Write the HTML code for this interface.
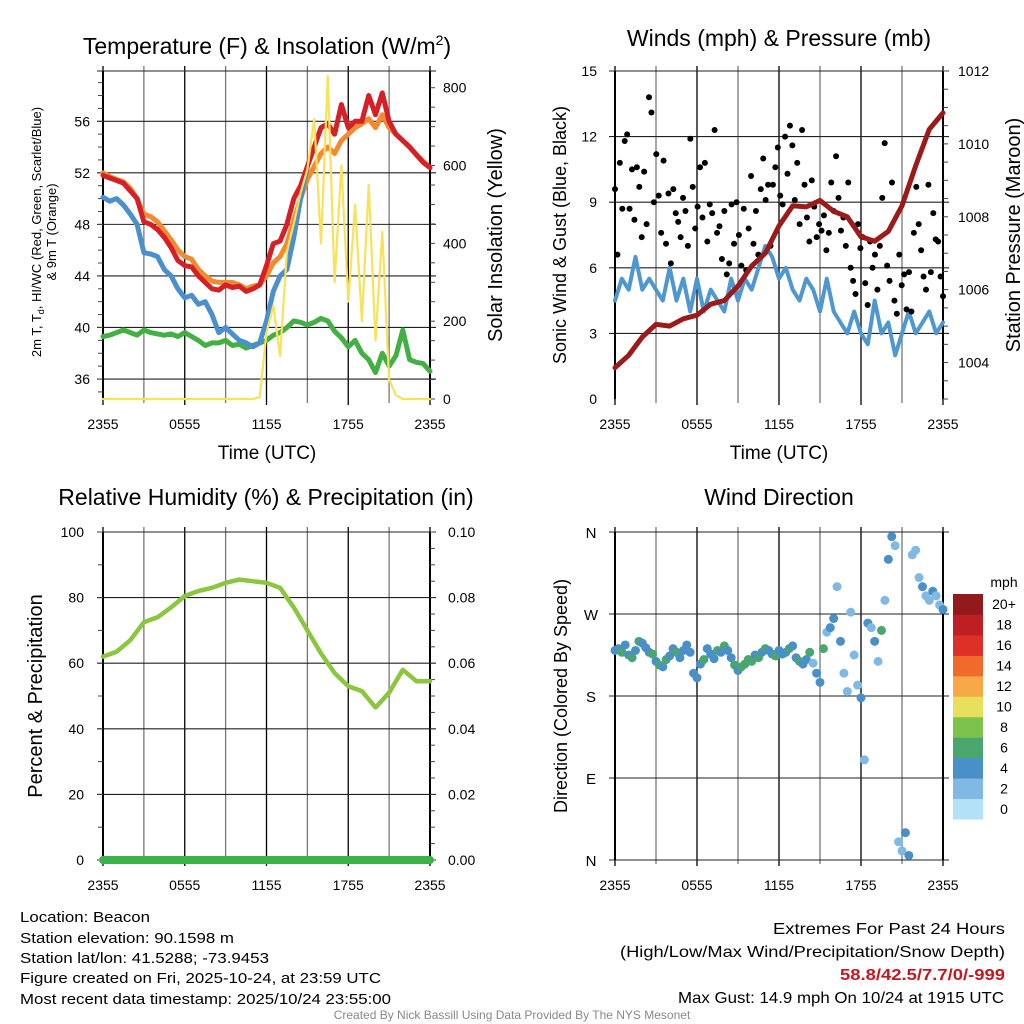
<!DOCTYPE html>
<html><head><meta charset="utf-8"><style>
html,body{margin:0;padding:0;background:#fff;}
svg{display:block;font-family:"Liberation Sans",sans-serif;}
</style></head><body>
<svg id="fig" width="1024" height="1024" viewBox="0 0 1024 1024" xmlns="http://www.w3.org/2000/svg">
<rect width="1024" height="1024" fill="#fff"/>
<g id="p1"></g>
<g id="p2"></g>
<g id="p3"></g>
<g id="p4"></g>
<text x="267" y="54" font-size="23" text-anchor="middle">Temperature (F) &amp; Insolation (W/m<tspan font-size="14" dy="-9">2</tspan><tspan dy="9">)</tspan></text>
<text x="779" y="46" font-size="23" text-anchor="middle">Winds (mph) &amp; Pressure (mb)</text>
<text x="266" y="505" font-size="23" text-anchor="middle">Relative Humidity (%) &amp; Precipitation (in)</text>
<text x="779" y="505" font-size="23" text-anchor="middle">Wind Direction</text>
<g font-size="15" font-family="'Liberation Sans Narrow','Liberation Sans',sans-serif">
<text x="20" y="922" textLength="130" lengthAdjust="spacingAndGlyphs">Location: Beacon</text>
<text x="20" y="943" textLength="214" lengthAdjust="spacingAndGlyphs">Station elevation: 90.1598 m</text>
<text x="20" y="963" textLength="249" lengthAdjust="spacingAndGlyphs">Station lat/lon: 41.5288; -73.9453</text>
<text x="20" y="983" textLength="361" lengthAdjust="spacingAndGlyphs">Figure created on Fri, 2025-10-24, at 23:59 UTC</text>
<text x="20" y="1004" textLength="371" lengthAdjust="spacingAndGlyphs">Most recent data timestamp: 2025/10/24 23:55:00</text>
</g>
<g font-size="16" font-family="'Liberation Sans Narrow','Liberation Sans',sans-serif">
<text x="773" y="934" textLength="232" lengthAdjust="spacingAndGlyphs">Extremes For Past 24 Hours</text>
<text x="620" y="957" textLength="385" lengthAdjust="spacingAndGlyphs">(High/Low/Max Wind/Precipitation/Snow Depth)</text>
<text x="840" y="980" textLength="165" lengthAdjust="spacingAndGlyphs" fill="#c8161d" font-weight="bold">58.8/42.5/7.7/0/-999</text>
<text x="678" y="1003" textLength="326" lengthAdjust="spacingAndGlyphs">Max Gust: 14.9 mph On 10/24 at 1915 UTC</text>
</g>
<text x="512" y="1019" font-size="12" fill="#888" text-anchor="middle" font-family="'Liberation Sans Narrow','Liberation Sans',sans-serif">Created By Nick Bassill Using Data Provided By The NYS Mesonet</text>
</svg>
<script>
// ---- data (time in hours since 2355) ----
const timeTicks = ["2355","0555","1155","1755","2355"];
const tempRed = [51.8,51.6,51.4,51.2,50.6,50.0,48.2,48.0,47.6,47.0,46.2,45.2,44.8,44.7,44.0,43.5,43.0,42.9,43.3,43.1,43.2,42.8,43.0,43.3,44.8,46.5,46.7,48.0,50.0,51.0,52.5,54.0,55.5,55.8,55.0,57.3,55.5,56.0,56.0,58.0,56.5,58.2,56.0,55.0,54.5,54.0,53.4,52.8,52.4];
const tempOrange = [52.0,51.7,51.5,51.3,50.8,50.0,48.8,48.6,48.2,47.5,46.8,46.0,45.5,45.3,44.5,44.0,43.6,43.5,43.5,43.5,43.3,43.0,43.2,43.3,44.0,45.0,45.5,46.5,48.3,50.0,51.5,52.5,53.5,54.0,53.5,54.5,55.0,55.5,55.8,56.2,55.5,56.5,55.5,55.0,54.5,54.0,53.4,52.9,52.4];
const tempBlue = [50.1,49.8,50.0,49.5,48.8,48.0,45.8,45.7,45.5,44.5,44.0,43.0,42.3,42.5,41.8,42.0,41.0,39.6,40.0,39.5,39.0,38.8,38.5,38.8,40.5,42.8,44.0,44.5,47.0,50.0,52.5,null,null,null,null,null,null,null,null,null,null,null,null,null,null,null,null,null,null];
const dewGreen = [39.3,39.4,39.6,39.8,39.6,39.4,39.8,39.6,39.5,39.4,39.5,39.3,39.6,39.3,39.0,38.6,38.8,38.8,39.0,38.6,38.7,38.4,38.6,38.8,39.0,39.4,39.6,40.0,40.5,40.4,40.2,40.4,40.7,40.5,39.7,39.2,38.5,39.0,38.0,37.5,36.5,38.0,37.0,37.8,39.8,37.5,37.3,37.2,36.6];
const solar = [0,0,0,0,0,0,0,0,0,0,0,0,0,0,0,0,0,0,0,0,0,0,0,5,170,240,110,380,450,530,590,720,400,830,300,600,250,500,200,550,150,430,50,10,0,0,0,0,0];
const windSpeed = [4.5,5.5,5.0,6.5,5.0,5.5,5.0,4.5,6.0,4.5,5.5,4.0,5.5,4.0,5.0,4.5,4.0,5.5,4.5,5.5,5.0,6.0,7.0,6.5,5.5,6.0,5.0,4.5,5.5,5.0,4.0,5.5,4.0,3.5,3.0,4.0,3.0,2.5,4.5,3.0,3.5,2.0,3.0,4.0,3.0,3.5,4.0,3.0,3.5];
const pressure = [1003.86,1004.2,1004.7,1005.05,1005.0,1005.2,1005.3,1005.6,1005.7,1006.1,1006.65,1007.0,1007.75,1008.3,1008.27,1008.45,1008.15,1008.0,1007.45,1007.33,1007.6,1008.3,1009.4,1010.4,1010.85];
const gusts = [9.6,6.6,10.8,8.7,11.8,12.1,8.7,10.5,8.2,10.6,9.7,7.4,10.4,8.0,13.8,13.1,9.0,11.2,9.3,7.6,10.9,7.1,9.4,6.2,9.6,8.5,8.1,7.4,9.2,8.6,7.0,11.9,9.7,7.8,8.8,10.6,8.3,10.8,7.2,8.9,8.5,12.3,7.6,7.9,6.4,8.6,5.7,6.2,8.9,7.1,9.0,7.5,6.1,8.7,5.9,7.8,10.2,7.1,8.6,6.6,9.6,11.0,9.1,9.8,7.0,9.8,10.6,11.5,9.3,8.9,12.0,10.3,12.5,11.6,9.1,10.8,8.0,12.3,9.8,8.3,7.2,10.0,8.8,7.4,8.0,7.7,8.4,6.8,7.6,9.9,8.6,11.1,9.2,7.7,8.3,7.0,9.9,6.0,5.4,4.8,8.0,6.9,7.4,5.3,4.3,7.2,6.0,6.6,5.0,7.0,9.2,11.7,6.1,5.4,9.9,4.5,3.9,6.6,5.2,5.7,4.1,5.8,4.0,7.6,9.7,8.0,6.8,5.6,5.0,9.8,5.8,8.5,7.3,7.2,5.6,4.7];
const rh = [62,63.5,67,72.5,74,77,80.5,82,83,84.5,85.5,85,84.5,83,77,70,63,57,53,51.5,46.5,51,58,54.5,54.5];
const precip = [0,0,0,0,0,0,0,0,0,0,0,0,0,0,0,0,0,0,0,0,0,0,0,0,0];
const windDir = [230,232,228,236,225,222,230,240,238,233,228,226,218,214,212,220,224,232,228,222,230,236,228,205,200,215,220,232,226,221,230,228,235,230,222,214,208,212,215,220,218,225,222,228,232,230,226,224,230,226,228,232,235,222,218,215,220,228,216,205,195,232,250,255,265,300,240,205,185,272,225,192,178,110,260,255,240,218,252,285,330,355,345,20,10,30,5,335,340,310,300,290,285,295,290,280,275];
const dirSpeed = [5,4,6,5,5,6,4,6,5,4,5,6,4,6,5,6,4,5,6,5,4,5,4,5,4,5,6,5,4,5,6,5,6,5,4,6,5,6,7,6,6,5,6,5,6,4,5,6,5,4,5,6,4,5,6,4,5,6,3,4,5,6,3,4,4,3,4,3,3,3,2,3,4,3,4,3,4,2,6,3,4,4,3,2,3,5,4,3,2,3,4,3,3,4,2,3,4];
const legendLabels = ["0","2","4","6","8","10","12","14","16","18","20+"];
const legendColors = ["#b3e1f7","#80bae4","#4a90c8","#4aa66f","#7dc24a","#e8e05c","#f6a945","#f06a2c","#dd3127","#bd1f25","#921a1c"];

const NS="http://www.w3.org/2000/svg";
function mk(parent,tag,attrs){const e=document.createElementNS(NS,tag);for(const k in attrs)e.setAttribute(k,attrs[k]);parent.appendChild(e);return e;}
function txt(parent,x,y,s,size,anchor,extra){const t=mk(parent,'text',Object.assign({x:x,y:y,'font-size':size,'text-anchor':anchor||'middle'},extra||{}));t.textContent=s;return t;}

const X0=103,X1=430,X2=615,X3=943;
function xs(left,right){return h=>left+(right-left)*h/24;}
function ys(vmin,vmax,top,bot){return v=>bot-(v-vmin)*(bot-top)/(vmax-vmin);}

function grid(g,x,left,right,top,bot,hLines){
  for(let h=0;h<=24;h+=3){const l=mk(g,'line',{x1:x(h),x2:x(h),y1:top-5,y2:bot+(h%6==0?6:4),stroke:(h%6==0?'#000':'#777'),'stroke-width':1.3});
    }
  hLines.forEach(y=>{const l=mk(g,'line',{x1:left-6,x2:right+6,y1:y,y2:y,stroke:'#222','stroke-width':1.1});
    });
  const ax=mk(g,'line',{x1:left,x2:left,y1:top,y2:bot,stroke:'#000','stroke-width':2});
  
  const ax2=mk(g,'line',{x1:right,x2:right,y1:top,y2:bot,stroke:'#000','stroke-width':2});
  
  timeTicks.forEach((s,i)=>{const t=txt(g,x(i*6),bot+30,s,14);
    });
}
function minorTicks(g,x0,dir,y0,y1,step){for(let y=y0;y<=y1+0.1;y+=step){const l=mk(g,'line',{x1:x0,x2:x0+dir*5,y1:y,y2:y,stroke:'#444','stroke-width':1});
  }}
function line(g,data,x,y,color,w,name){let d='';let pen=false;const n=data.length;
  data.forEach((v,i)=>{if(v===null){pen=false;return;}const px=x(i*24/(n-1)),py=y(v);d+=(pen?'L':'M')+px.toFixed(1)+','+py.toFixed(1);pen=true;});
  const p=mk(g,'path',{d:d,fill:'none',stroke:color,'stroke-width':w,'stroke-linejoin':'round','stroke-linecap':'round'});
  return p;}

// ---- Panel 1 ----
{const g=document.getElementById('p1');const x=xs(X0,X1);const y=ys(34.45,59.9,71,399);const yr=ys(0,843,71,399);
 const hl=[36,40,44,48,52,56].map(y);hl.push(71);
 grid(g,x,X0,X1,71,399,hl);
 minorTicks(g,X0,-1,y(59),y(35),y(58)-y(59));minorTicks(g,X1,1,yr(800),yr(0),yr(0)-yr(50));
 [36,40,44,48,52,56].forEach(v=>{const t=txt(g,90,y(v)+5,String(v),14,'end');});
 [0,200,400,600,800].forEach(v=>{const t=txt(g,443,yr(v)+5,String(v),14,'start');});
 line(g,dewGreen,x,y,'#43b043',5,'dewpoint-line');
 line(g,tempOrange,x,y,'#f28a30',5,'temp-9m-line');
 line(g,tempBlue,x,y,'#4a90cf',5,'windchill-line');
 line(g,tempRed,x,y,'#d42026',5,'temp-2m-line');
 line(g,solar,x,yr,'#f9e15a',2.2,'solar-line');
 const a=txt(g,0,0,'',13,'middle',{transform:'translate(41,232) rotate(-90)'});a.innerHTML='2m T, T<tspan font-size="9" dy="3">d</tspan><tspan dy="-3">, HI/WC (Red, Green, Scarlet/Blue)</tspan>';
 
 const b=txt(g,0,0,'& 9m T (Orange)',13,'middle',{transform:'translate(56,232) rotate(-90)'});
 const c=txt(g,0,0,'Solar Insolation (Yellow)',20,'middle',{transform:'translate(502,235) rotate(-90)'});
 const d=txt(g,267,459,'Time (UTC)',19);
}
// ---- Panel 2 ----
{const g=document.getElementById('p2');const x=xs(X2,X3);const y=ys(0,15,71,399);const yr=ys(1003,1012,71,399);
 grid(g,x,X2,X3,71,399,[3,6,9,12,15].map(y));
 minorTicks(g,X3,1,yr(1012),yr(1003),yr(1003)-yr(1003.5));
 [0,3,6,9,12,15].forEach(v=>{const t=txt(g,597,y(v)+5,String(v),14,'end');});
 [1004,1006,1008,1010,1012].forEach(v=>{const t=txt(g,958,yr(v)+5,String(v),14,'start');});
 line(g,windSpeed,x,y,'#4f97d0',4,'sonic-wind-line');
 gusts.forEach((v,i)=>{const c=mk(g,'circle',{cx:x(i*24/(gusts.length-1)),cy:y(v),r:3,fill:'#000'});
   });
 line(g,pressure,x,yr,'#9b1b1b',5,'pressure-line');
 const a=txt(g,0,0,'Sonic Wind & Gust (Blue, Black)',18,'middle',{transform:'translate(566,235) rotate(-90)'});
 const c=txt(g,0,0,'Station Pressure (Maroon)',20,'middle',{transform:'translate(1020,235) rotate(-90)'});
 const d=txt(g,779,459,'Time (UTC)',19);
}
// ---- Panel 3 ----
{const g=document.getElementById('p3');const x=xs(X0,X1);const y=ys(0,100,532,860);const yr=ys(0,0.1,532,860);
 grid(g,x,X0,X1,532,860,[0,20,40,60,80,100].map(y));
 minorTicks(g,X0,-1,y(100),y(0),y(0)-y(10));minorTicks(g,X1,1,yr(0.1),yr(0),yr(0)-yr(0.005));
 [0,20,40,60,80,100].forEach(v=>{const t=txt(g,84,y(v)+5,String(v),14,'end');});
 ['0.00','0.02','0.04','0.06','0.08','0.10'].forEach(s=>{const t=txt(g,448,yr(parseFloat(s))+5,s,14,'start');});
 line(g,rh,x,y,'#8cc63f',4.5,'humidity-line');
 line(g,precip,x,yr,'#3cb34a',8,'precipitation-line');
 const a=txt(g,0,0,'Percent & Precipitation',20,'middle',{transform:'translate(42,696) rotate(-90)'});
}
// ---- Panel 4 ----
{const g=document.getElementById('p4');const x=xs(X2,X3);const y=ys(0,360,532,860);
 grid(g,x,X2,X3,532,860,[0,90,180,270,360].map(y));
 [['N',0],['E',90],['S',180],['W',270],['N',360]].forEach(p=>{const t=txt(g,591,y(p[1])+6,p[0],15,'middle');});
 windDir.forEach((v,i)=>{const idx=Math.min(10,Math.floor(dirSpeed[i]/2));
   const c=mk(g,'circle',{cx:x(i*24/(windDir.length-1)),cy:y(v),r:4.5,fill:legendColors[idx]});
   });
 const a=txt(g,0,0,'Direction (Colored By Speed)',18,'middle',{transform:'translate(567,696) rotate(-90)'});
 const m=txt(g,1004,587,'mph',14,'middle');
 const rowH=(819-594)/11;
 legendLabels.forEach((s,i)=>{const yy=819-(i+1)*rowH;
   const r=mk(g,'rect',{x:953,y:yy,width:30,height:rowH+0.5,fill:legendColors[i]});
   
   const t=txt(g,1004,yy+rowH/2+5,s,14,'middle');});
}
</script>
</body></html>
